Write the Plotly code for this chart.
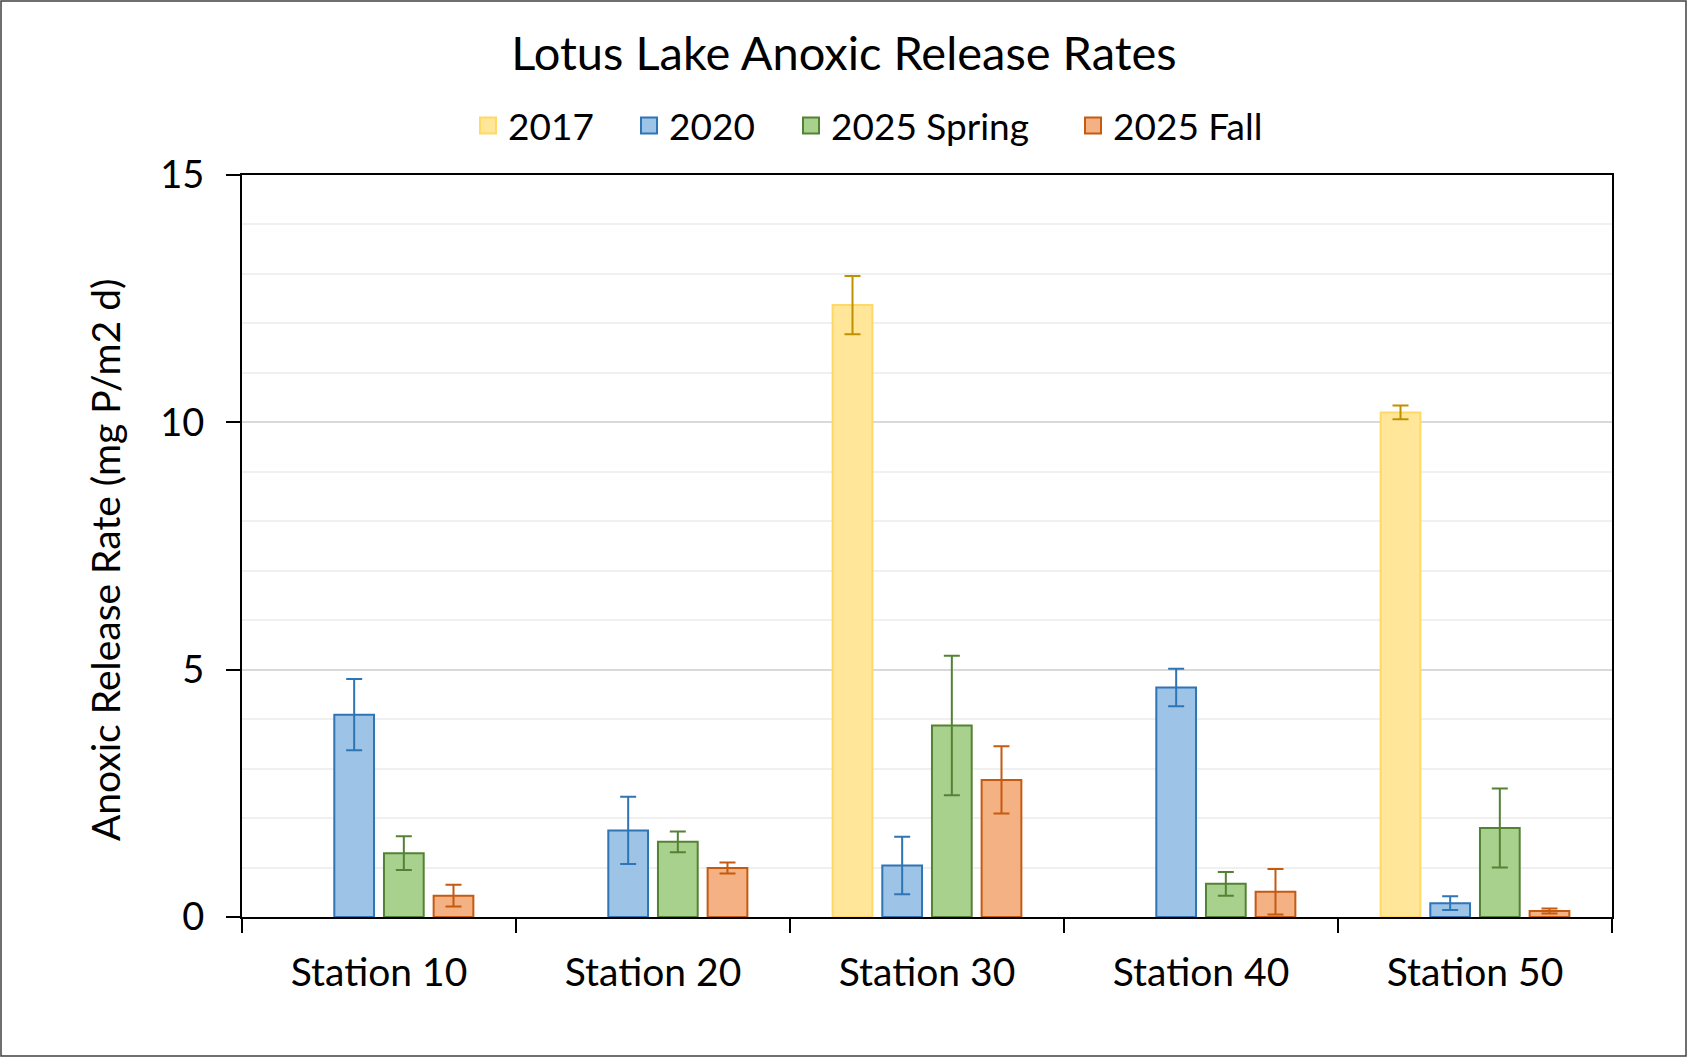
import plotly.graph_objects as go

stations = ["Station 10", "Station 20", "Station 30", "Station 40", "Station 50"]
series_names = ["2017", "2020", "2025 Spring", "2025 Fall"]

vals_2017 = [None, None, 12.37, None, 10.2]
err_2017 = [None, None, 0.59, None, 0.14]
vals_2020 = [4.09, 1.75, 1.04, 4.64, 0.28]
err_2020 = [0.72, 0.68, 0.58, 0.38, 0.14]
vals_spring = [1.29, 1.52, 3.87, 0.67, 1.80]
err_spring = [0.34, 0.21, 1.41, 0.24, 0.80]
vals_fall = [0.43, 0.99, 2.77, 0.51, 0.12]
err_fall = [0.22, 0.11, 0.68, 0.46, 0.05]

fills = ["#FFE699", "#9DC3E6", "#A9D18E", "#F4B183"]
borders = ["#FFD966", "#2E75B6", "#548235", "#C55A11"]
errcols = ["#BF9000", "#2E75B6", "#548235", "#C55A11"]

FONT = "Lato"
W, H = 1688, 1058
L, R, T, B = 242, 1612, 175, 917

pw, ph = R - L, B - T
def px_x(p):
    return (p - L) / pw
def px_y(p):
    return (B - p) / ph

legend_ids = ["legend", "legend2", "legend3", "legend4"]
legend_left_px = [468, 629, 791, 1073]

fig = go.Figure()
for name, v, e, fc, bc, ec, lid in zip(series_names,
                                       [vals_2017, vals_2020, vals_spring, vals_fall],
                                       [err_2017, err_2020, err_spring, err_fall],
                                       fills, borders, errcols, legend_ids):
    fig.add_trace(go.Bar(
        x=stations, y=v, name=name, showlegend=False,
        marker=dict(color=fc, line=dict(color=bc, width=2)),
        error_y=dict(type="data", array=e, visible=True, color=ec,
                     thickness=2, width=8),
    ))
    # legend entry
    fig.add_trace(go.Scatter(
        x=[None], y=[None], name=name, mode="markers", legend=lid,
        marker=dict(symbol="square", size=22, color=fc, line=dict(color=bc, width=2)),
    ))

fig.add_shape(type="rect", xref="paper", yref="paper",
              x0=px_x(1), x1=px_x(W - 2), y0=px_y(H - 2), y1=px_y(1),
              line=dict(color="#404040", width=1.5), fillcolor="rgba(0,0,0,0)")

fig.add_annotation(text="Anoxic Release Rate (mg P/m2 d)", textangle=-90,
                   xref="paper", yref="paper", x=px_x(105), y=px_y(560),
                   xanchor="center", yanchor="middle", showarrow=False,
                   font=dict(size=39, family=FONT, color="black"))

legend_common = dict(orientation="h", y=px_y(126), yanchor="middle",
                     xanchor="left", font=dict(size=37, family=FONT),
                     bgcolor="rgba(0,0,0,0)", borderwidth=0)
legend_layout = {}
for lid, lx in zip(legend_ids, legend_left_px):
    legend_layout[lid] = dict(legend_common, x=px_x(lx))

fig.update_layout(
    width=W, height=H,
    margin=dict(l=L, r=W - R, t=T, b=H - B, pad=0),
    paper_bgcolor="white", plot_bgcolor="white",
    font=dict(family=FONT, color="black", size=38),
    title=dict(text="Lotus Lake Anoxic Release Rates", x=0.5, xanchor="center",
               y=1 - 54 / H, yanchor="middle", font=dict(size=47, family=FONT)),
    barmode="group", bargap=0.275, bargroupgap=0.2,
    showlegend=True,
    **legend_layout,
)
fig.update_yaxes(range=[0, 15], tickvals=[0, 5, 10, 15], ticks="outside",
                 ticklen=14, tickwidth=2, tickcolor="black",
                 showline=True, linecolor="black", linewidth=2, mirror=True,
                 showgrid=True, gridcolor="#D9D9D9", gridwidth=2,
                 minor=dict(dtick=1, showgrid=True, gridcolor="#F0F0F0", gridwidth=2),
                 zeroline=False, ticklabelstandoff=14,
                 tickfont=dict(size=38, family=FONT))
fig.update_xaxes(ticks="outside", tickson="boundaries", ticklen=14, tickwidth=2,
                 tickcolor="black", showline=True, linecolor="black", linewidth=2,
                 mirror=True, showgrid=False, ticklabelstandoff=20,
                 tickfont=dict(size=39, family=FONT))

fig.write_html("out.html", config={"displayModeBar": False},
               post_script="document.body.style.margin='0';document.body.style.overflow='hidden';")
